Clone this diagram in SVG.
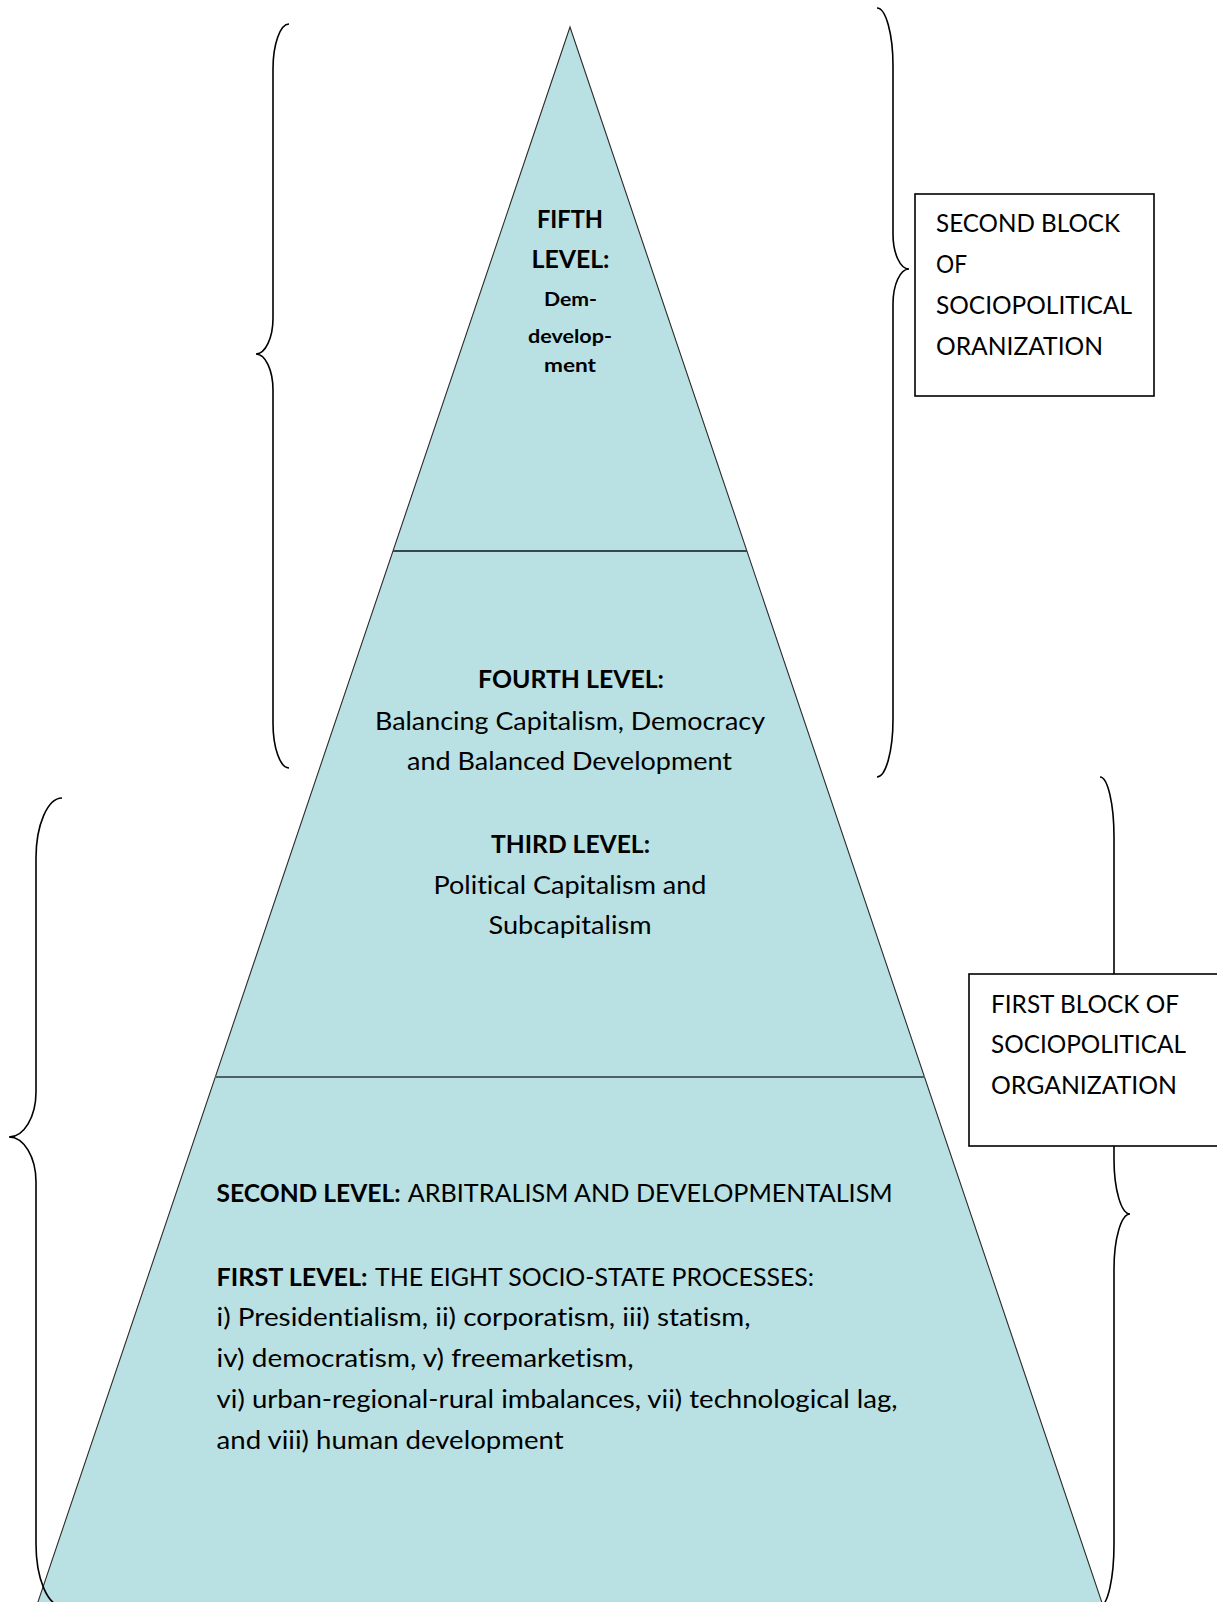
<svg xmlns="http://www.w3.org/2000/svg" width="1217" height="1602" viewBox="0 0 1217 1602">
<style>
  .t{font-family:Lato,"Open Sans","Liberation Sans",sans-serif;font-size:25.5px;fill:#000;font-variant-ligatures:none}
  .b{font-weight:bold}
  .s{font-size:19px;font-weight:bold}
  .brace{fill:none;stroke:#000;stroke-width:1.6}
  .box{fill:#fff;stroke:#000;stroke-width:1.6}
  .div{stroke-width:2.2}
</style>
<rect width="1217" height="1602" fill="#fff"/>
<g id="pyramid">
  <polygon points="570,27 30.2,1625 1109.5,1625" fill="#b9e0e3" stroke="#2b2b2b" stroke-width="1.1"/>
  <line class="div" x1="393" y1="551" x2="747" y2="551" stroke="#35474b"/>
  <line class="div" x1="215" y1="1077" x2="925" y2="1077" stroke="#4f6165"/>
</g>
<g id="level5">
  <text class="t b" x="537" y="228" textLength="66" lengthAdjust="spacingAndGlyphs">FIFTH</text>
  <text class="t b" x="531.5" y="268" textLength="78" lengthAdjust="spacingAndGlyphs">LEVEL:</text>
  <text class="t s" x="544" y="306" textLength="53" lengthAdjust="spacingAndGlyphs">Dem-</text>
  <text class="t s" x="528" y="343" textLength="84" lengthAdjust="spacingAndGlyphs">develop-</text>
  <text class="t s" x="544" y="372" textLength="52" lengthAdjust="spacingAndGlyphs">ment</text>
</g>
<g id="level4">
  <text class="t b" x="478" y="688" textLength="186" lengthAdjust="spacingAndGlyphs">FOURTH LEVEL:</text>
  <text class="t" x="375" y="730" textLength="390" lengthAdjust="spacingAndGlyphs">Balancing Capitalism, Democracy</text>
  <text class="t" x="407" y="770" textLength="325" lengthAdjust="spacingAndGlyphs">and Balanced Development</text>
</g>
<g id="level3">
  <text class="t b" x="491" y="853" textLength="159" lengthAdjust="spacingAndGlyphs">THIRD LEVEL:</text>
  <text class="t" x="433.5" y="894" textLength="273" lengthAdjust="spacingAndGlyphs">Political Capitalism and</text>
  <text class="t" x="488.5" y="934" textLength="163" lengthAdjust="spacingAndGlyphs">Subcapitalism</text>
</g>
<g id="level2">
  <text class="t b" x="216.6" y="1202" textLength="184" lengthAdjust="spacingAndGlyphs">SECOND LEVEL:</text>
  <text class="t" x="407.7" y="1202" textLength="485" lengthAdjust="spacingAndGlyphs">ARBITRALISM AND DEVELOPMENTALISM</text>
</g>
<g id="level1">
  <text class="t b" x="216.6" y="1286" textLength="151" lengthAdjust="spacingAndGlyphs">FIRST LEVEL:</text>
  <text class="t" x="375" y="1286" textLength="439" lengthAdjust="spacingAndGlyphs">THE EIGHT SOCIO-STATE PROCESSES:</text>
  <text class="t" x="216.6" y="1326" textLength="534" lengthAdjust="spacingAndGlyphs">i) Presidentialism, ii) corporatism, iii) statism,</text>
  <text class="t" x="216.6" y="1367" textLength="417" lengthAdjust="spacingAndGlyphs">iv) democratism, v) freemarketism,</text>
  <text class="t" x="216.6" y="1408" textLength="681" lengthAdjust="spacingAndGlyphs">vi) urban-regional-rural imbalances, vii) technological lag,</text>
  <text class="t" x="216.6" y="1449" textLength="347" lengthAdjust="spacingAndGlyphs">and viii) human development</text>
</g>
<g id="connectors">
  <path id="brace-top-left" class="brace" d="M289,24 A16,45 0 0 0 273,69 L273,318 A17,36 0 0 1 256,354 A17,36 0 0 1 273,390 L273,723 A16,45 0 0 0 289,768"/>
  <path id="brace-top-right" class="brace" d="M877,8 A16,58 0 0 1 893,66 L893,234 A16,35 0 0 0 909,269 A16,35 0 0 0 893,304 L893,719 A16,58 0 0 1 877,777"/>
  <path id="brace-bottom-left" class="brace" d="M62,798 A26,60 0 0 0 36,858 L36,1092 A27,45 0 0 1 9,1137 A27,45 0 0 1 36,1182 L36,1544 A26,62 0 0 0 62,1606"/>
  <path id="brace-bottom-right" class="brace" d="M1100,777 A14,60 0 0 1 1114,837 L1114,1159 A16,55 0 0 0 1130,1214 A16,55 0 0 0 1114,1269 L1114,1544 A14,62 0 0 1 1100,1606"/>
</g>
<g id="second-block">
  <rect class="box" x="915" y="194" width="239" height="202"/>
  <text class="t" x="936" y="232" textLength="184" lengthAdjust="spacingAndGlyphs">SECOND BLOCK</text>
  <text class="t" x="936" y="273" textLength="31" lengthAdjust="spacingAndGlyphs">OF</text>
  <text class="t" x="936" y="314" textLength="196" lengthAdjust="spacingAndGlyphs">SOCIOPOLITICAL</text>
  <text class="t" x="936" y="355" textLength="167" lengthAdjust="spacingAndGlyphs">ORANIZATION</text>
</g>
<g id="first-block">
  <rect class="box" x="969" y="974" width="260" height="172"/>
  <text class="t" x="991" y="1013" textLength="188" lengthAdjust="spacingAndGlyphs">FIRST BLOCK OF</text>
  <text class="t" x="991" y="1053" textLength="195" lengthAdjust="spacingAndGlyphs">SOCIOPOLITICAL</text>
  <text class="t" x="991" y="1094" textLength="186" lengthAdjust="spacingAndGlyphs">ORGANIZATION</text>
</g>
</svg>
